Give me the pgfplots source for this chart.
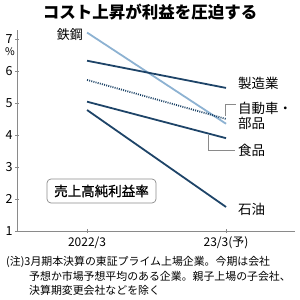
\documentclass[border=0pt]{standalone}
\usepackage{pgfplots}
\pgfplotsset{compat=1.18}
\usepackage{fontspec}
\setmainfont{Noto Sans CJK JP}
\newfontfamily\medfont{Noto Sans CJK JP}[FakeBold=0.8]
\definecolor{navy}{HTML}{1E4468}
\definecolor{lightb}{HTML}{8DB2D2}
\definecolor{axgray}{HTML}{8A8A8A}
\begin{document}
\begin{tikzpicture}[x=1pt,y=1pt]
\useasboundingbox (0,0) rectangle (300,300);
\begin{axis}[
 at={(17pt,69pt)}, anchor=south west, scale only axis, width=278pt, height=201pt,
 xmin=-0.504, xmax=1.496, ymin=1, ymax=7.28,
 axis x line=bottom, axis y line=left, axis line style={axgray, -},
 xtick={0,1}, xticklabels={2022/3, 23/3(予)},
 ytick={1,2,3,4,5,6,7},
 tick style={axgray, line width=0.5pt}, major tick length=4pt, tick align=center,
 yticklabel style={font=\fontsize{12.5}{13}\selectfont, text=black, xshift=1pt},
 xticklabel style={font=\fontsize{12}{13}\selectfont, text=black},
 /pgf/number format/assume math mode=true,
 clip=false,
]
\addplot[lightb, line width=1.8pt] coordinates {(0,7.2) (1,4.35)};
\addplot[navy, line width=1.8pt] coordinates {(0,6.32) (1,5.47)};
\addplot[navy, line width=1.8pt, dash pattern=on 1pt off 1.2pt] coordinates {(0,5.72) (1,4.5)};
\addplot[navy, line width=1.8pt] coordinates {(0,5.04) (1,3.9)};
\addplot[navy, line width=1.8pt] coordinates {(0,4.78) (1,1.75)};
\end{axis}
\node at (150,288) {\fontsize{16.5}{17}\selectfont\bfseries コスト上昇が利益を圧迫する};
\node at (10,248) {\fontsize{10.5}{11}\selectfont \%};
\node[anchor=east, inner sep=0] at (83,265) {\fontsize{13}{14}\selectfont 鉄鋼};
\node[anchor=west, inner sep=0] at (238,217) {\fontsize{13.5}{14}\selectfont 製造業};
\node[anchor=west, inner sep=0] at (238,192) {\fontsize{13.5}{14}\selectfont 自動車・};
\node[anchor=west, inner sep=0] at (238,177) {\fontsize{13.5}{14}\selectfont 部品};
\node[anchor=west, inner sep=0] at (238,150) {\fontsize{13.5}{14}\selectfont 食品};
\node[anchor=west, inner sep=0] at (238,91) {\fontsize{13.5}{14}\selectfont 石油};
\draw[axgray, line width=0.6pt] (225,184) -- (225,195.5) -- (236,195.5);
\draw[axgray, line width=0.6pt] (208,165) -- (208,150) -- (235,150);
\node[draw=axgray, line width=0.7pt, rounded corners=4pt, minimum width=109pt, minimum height=24pt, inner sep=0] at (101.5,109) {\fontsize{13.5}{14}\medfont 売上高純利益率};
\node[anchor=west, inner sep=0] at (6,38) {\fontsize{10.9}{12}\selectfont (注)3月期本決算の東証プライム上場企業。今期は会社};
\node[anchor=west, inner sep=0] at (29,24) {\fontsize{10.9}{12}\selectfont 予想か市場予想平均のある企業。親子上場の子会社、};
\node[anchor=west, inner sep=0] at (29,10) {\fontsize{10.9}{12}\selectfont 決算期変更会社などを除く};
\end{tikzpicture}
\end{document}
